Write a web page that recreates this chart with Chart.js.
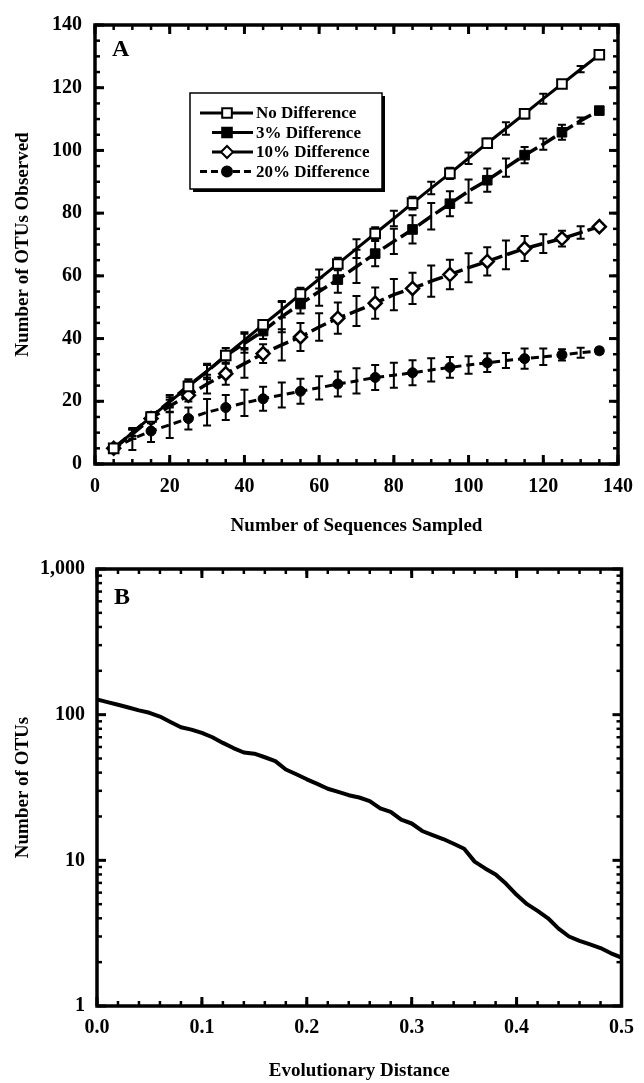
<!DOCTYPE html>
<html>
<head>
<meta charset="utf-8">
<script src="https://cdn.jsdelivr.net/npm/chart.js@4.4.1/dist/chart.umd.min.js"></script>
<style>
  html, body { margin: 0; padding: 0; background: #fff; }
  #wrap { position: relative; width: 644px; height: 1083px; }
  canvas { position: absolute; left: 0; }
  #chartA { top: 0; }
  #chartB { top: 545px; }
</style>
</head>
<body>
<div id="wrap">
  <canvas id="chartA" width="644" height="545"></canvas>
  <canvas id="chartB" width="644" height="538"></canvas>
</div>
<script>
// ---------- Panel A: OTUs observed vs. sequences sampled ----------
const sampled = [5, 10, 15, 20, 25, 30, 35, 40, 45, 50, 55, 60, 65, 70, 75, 80, 85, 90, 95, 100, 105, 110, 115, 120, 125, 130, 135];

const noDiff = [5, 10, 15, 19.8, 24.7, 29.6, 34.6, 39.5, 44.4, 49.2, 54.2, 59, 63.8, 68.7, 73.5, 78.3, 83.2, 88, 92.7, 97.5, 102.3, 107, 111.7, 116.5, 121.2, 125.9, 130.5];
const noDiffErr = [0.8, 1, 1, 1.5, 1.5, 2, 1.5, 2.5, 1.5, 2.5, 2, 3, 2, 3, 2, 2.5, 2, 2, 1.8, 1.8, 1.5, 2, 1.5, 1.6, 1.2, 1, 0.8];

const diff3 = [5, 10, 15, 20, 25, 29.5, 34.5, 38.5, 42.4, 47, 51, 55, 58.8, 63, 67.1, 71, 74.8, 79, 83, 87, 90.5, 94.5, 98.5, 102, 105.8, 109.5, 112.7];
const diff3Err = [0.8, 1.2, 1.5, 2, 2, 2.5, 2.5, 3, 2.5, 5, 3, 4.5, 4.2, 5.3, 4, 4, 4.5, 4.2, 4, 3.7, 3.7, 2.9, 2.6, 1.8, 2.4, 1, 1];

const diff10 = [5, 9.5, 14.5, 18.5, 21.9, 25.5, 28.8, 32, 35.2, 38, 40.5, 43.7, 46.5, 48.8, 51.3, 54, 56, 58.3, 60.4, 62.6, 64.6, 66.7, 68.7, 70.3, 71.9, 73.8, 75.7];
const diff10Err = [0.8, 1.5, 1.5, 2, 2, 3, 3.5, 4.5, 3, 5, 4.5, 4.4, 5, 4.8, 5, 5, 5, 5, 4.7, 4.6, 4.5, 4.6, 4, 3, 2.5, 2, 1];

const diff20 = [5, 8, 10.5, 12.5, 14.5, 16.5, 18, 19.5, 20.8, 22, 23.2, 24.3, 25.5, 26.5, 27.6, 28.3, 29.1, 30, 30.8, 31.6, 32.3, 33, 33.6, 34.2, 34.8, 35.5, 36.1];
const diff20Err = [1, 3.5, 3.5, 4.2, 3.5, 4.2, 4, 4.2, 3.8, 4, 4, 3.7, 4, 4, 4, 4, 4, 3.7, 3.3, 2.8, 3, 2.4, 3.2, 2.6, 1.8, 1.6, 1];

const seriesLabels = ["No Difference", "3% Difference", "10% Difference", "20% Difference"];
const ticksA = [0, 20, 40, 60, 80, 100, 120, 140];

// ---------- Panel B: OTUs vs. evolutionary distance ----------
const distance = [0, 0.01, 0.02, 0.03, 0.04, 0.05, 0.06, 0.07, 0.08, 0.09, 0.1, 0.11, 0.12, 0.13, 0.14, 0.15, 0.16, 0.17, 0.18, 0.19, 0.2, 0.21, 0.22, 0.23, 0.24, 0.25, 0.26, 0.27, 0.28, 0.29, 0.3, 0.31, 0.32, 0.33, 0.34, 0.35, 0.36, 0.37, 0.38, 0.39, 0.4, 0.41, 0.42, 0.43, 0.44, 0.45, 0.46, 0.47, 0.48, 0.49, 0.5];
const otus = [127, 122, 117, 112, 107, 103, 97, 89, 82, 79, 75, 70, 64, 59, 55, 54, 51, 48, 42, 39, 36, 33.5, 31, 29.5, 28, 27, 25.5, 22.7, 21.5, 19, 17.9, 15.9, 14.9, 14, 13, 12, 9.8, 8.8, 8, 6.9, 5.8, 5, 4.5, 4, 3.4, 3, 2.8, 2.65, 2.5, 2.3, 2.15];
const ticksBx = [0, 0.1, 0.2, 0.3, 0.4, 0.5];
const ticksBy = [1, 10, 100, 1000];

// ---------- shared look ----------
Chart.defaults.font.family = '"Liberation Serif", "Times New Roman", Times, serif';
Chart.defaults.font.weight = "bold";
Chart.defaults.font.size = 20;
Chart.defaults.color = "#000";

// error bars, drawn under the lines and markers
const errorBars = {
  id: "errorBars",
  beforeDatasetsDraw(chart) {
    const { ctx } = chart;
    const ys = chart.scales.y;
    ctx.save();
    ctx.strokeStyle = "#000";
    ctx.lineWidth = 2;
    chart.data.datasets.forEach((ds, i) => {
      if (!ds.errors) return;
      chart.getDatasetMeta(i).data.forEach((pt, j) => {
        const v = ds.data[j].y;
        const e = ds.errors[j];
        const top = ys.getPixelForValue(v + e);
        const bot = ys.getPixelForValue(v - e);
        ctx.beginPath();
        ctx.moveTo(pt.x, top); ctx.lineTo(pt.x, bot);
        ctx.moveTo(pt.x - 4, top); ctx.lineTo(pt.x + 4, top);
        ctx.moveTo(pt.x - 4, bot); ctx.lineTo(pt.x + 4, bot);
        ctx.stroke();
      });
    });
    ctx.restore();
  },
};

// heavy frame with inward ticks on all four sides + panel letter
const frame = {
  id: "frame",
  afterDraw(chart, args, opts) {
    const { ctx, chartArea: a } = chart;
    const xs = chart.scales.x, ys = chart.scales.y;
    ctx.save();
    ctx.strokeStyle = "#000";
    const seg = (x1, y1, x2, y2) => { ctx.beginPath(); ctx.moveTo(x1, y1); ctx.lineTo(x2, y2); ctx.stroke(); };
    const xTicks = (vals, len, w) => {
      ctx.lineWidth = w;
      vals.forEach((v) => {
        const p = xs.getPixelForValue(v);
        seg(p, a.bottom, p, a.bottom - len);
        seg(p, a.top, p, a.top + len);
      });
    };
    const yTicks = (vals, len, w) => {
      ctx.lineWidth = w;
      vals.forEach((v) => {
        const p = ys.getPixelForValue(v);
        seg(a.left, p, a.left + len, p);
        seg(a.right, p, a.right - len, p);
      });
    };
    xTicks(opts.xMinor, 5, 2.5);
    xTicks(opts.xMajor, 9, 3);
    yTicks(opts.yMinor, 5, 2.5);
    yTicks(opts.yMajor, 9, 3);
    ctx.lineWidth = 3.5;
    ctx.strokeRect(a.left, a.top, a.right - a.left, a.bottom - a.top);
    ctx.fillStyle = "#000";
    ctx.font = 'bold 24px "Liberation Serif", serif';
    ctx.textBaseline = "alphabetic";
    ctx.fillText(opts.letter, a.left + 17, a.top + opts.letterDy);
    ctx.restore();
  },
};

// boxed legend with drop shadow (panel A)
const boxLegend = {
  id: "boxLegend",
  afterDraw(chart, args, opts) {
    const { ctx } = chart;
    const { x, y, w, h } = opts;
    ctx.save();
    ctx.fillStyle = "#000";
    ctx.fillRect(x + 3, y + 3, w, h);
    ctx.fillStyle = "#fff";
    ctx.fillRect(x, y, w, h);
    ctx.strokeStyle = "#000";
    ctx.lineWidth = 1.5;
    ctx.strokeRect(x, y, w, h);
    chart.data.datasets.forEach((ds, i) => {
      const ry = y + 20 + i * 19.5;
      const x0 = i === 1 || i === 2 ? x + 22 : x + 10;
      ctx.strokeStyle = "#000";
      ctx.lineWidth = 3;
      ctx.setLineDash(ds.legendDash);
      ctx.beginPath();
      ctx.moveTo(x0, ry);
      ctx.lineTo(x + 63, ry);
      ctx.stroke();
      ctx.setLineDash([]);
      ctx.fillStyle = ds.pointBackgroundColor;
      ctx.lineWidth = 2;
      Chart.helpers.drawPoint(ctx, { pointStyle: ds.pointStyle, radius: ds.legendRadius, rotation: 0, borderWidth: 2 }, x + 37, ry);
      ctx.fillStyle = "#000";
      ctx.font = 'bold 17px "Liberation Serif", serif';
      ctx.textBaseline = "middle";
      ctx.fillText(ds.label, x + 66, ry + 1);
    });
    ctx.restore();
  },
};

const toPoints = (ys) => sampled.map((x, i) => ({ x: x, y: ys[i] }));
const markerAt = (r) => (c) => (sampled[c.dataIndex] % 10 === 5 ? r : 0);

function fixedWidth(w) { return (scale) => { scale.width = w; }; }
function fixedHeight(h) { return (scale) => { scale.height = h; }; }

function range(from, to, step) {
  const out = [];
  for (let v = from; v <= to + 1e-9; v += step) out.push(+v.toFixed(4));
  return out;
}

// --- Panel A chart ---
new Chart(document.getElementById("chartA"), {
  type: "line",
  data: {
    datasets: [
      {
        label: seriesLabels[0], data: toPoints(noDiff), errors: noDiffErr,
        borderColor: "#000", borderWidth: 3, legendDash: [],
        pointStyle: "rect", pointRadius: markerAt(6.8), legendRadius: 6.8,
        pointBackgroundColor: "#fff", pointBorderColor: "#000", pointBorderWidth: 2,
      },
      {
        label: seriesLabels[1], data: toPoints(diff3), errors: diff3Err,
        borderColor: "#000", borderWidth: 3.5, borderDash: [16, 5], legendDash: [],
        pointStyle: "rect", pointRadius: markerAt(6.8), legendRadius: 6.8,
        pointBackgroundColor: "#000", pointBorderColor: "#000", pointBorderWidth: 1,
      },
      {
        label: seriesLabels[2], data: toPoints(diff10), errors: diff10Err,
        borderColor: "#000", borderWidth: 3.5, borderDash: [16, 5], legendDash: [],
        pointStyle: "rectRot", pointRadius: markerAt(6.5), legendRadius: 6,
        pointBackgroundColor: "#fff", pointBorderColor: "#000", pointBorderWidth: 2.5,
      },
      {
        label: seriesLabels[3], data: toPoints(diff20), errors: diff20Err,
        borderColor: "#000", borderWidth: 3, borderDash: [8, 5], legendDash: [7, 4],
        pointStyle: "circle", pointRadius: markerAt(5), legendRadius: 5,
        pointBackgroundColor: "#000", pointBorderColor: "#000", pointBorderWidth: 1,
      },
    ],
  },
  options: {
    responsive: false,
    animation: false,
    events: [],
    layout: { padding: { top: 22, right: 18, left: 0, bottom: 0 } },
    elements: { line: { tension: 0 } },
    scales: {
      x: {
        type: "linear", min: 0, max: 140,
        afterBuildTicks: (s) => { s.ticks = ticksA.map((v) => ({ value: v })); },
        afterFit: fixedHeight(81),
        grid: { display: false, drawTicks: false },
        border: { display: false },
        ticks: { padding: 11, maxRotation: 0 },
        title: { display: true, text: "Number of Sequences Sampled", font: { size: 19, weight: "bold" }, padding: { top: 0, bottom: 8 } },
      },
      y: {
        type: "linear", min: 0, max: 140,
        afterBuildTicks: (s) => { s.ticks = ticksA.map((v) => ({ value: v })); },
        afterFit: fixedWidth(95),
        grid: { display: false, drawTicks: false },
        border: { display: false },
        ticks: { padding: 13 },
        title: { display: true, text: "Number of OTUs Observed", font: { size: 19, weight: "bold" }, padding: { top: 12, bottom: 0 } },
      },
    },
    plugins: {
      legend: { display: false },
      tooltip: { enabled: false },
      frame: { letter: "A", letterDy: 31, xMajor: ticksA, xMinor: range(0, 140, 5), yMajor: ticksA, yMinor: range(0, 140, 5) },
      boxLegend: { x: 190, y: 93, w: 192, h: 96 },
    },
  },
  plugins: [errorBars, frame, boxLegend],
});

// --- Panel B chart ---
const logMinor = [];
[1, 10, 100].forEach((d) => { for (let k = 2; k <= 9; k++) logMinor.push(d * k); });

new Chart(document.getElementById("chartB"), {
  type: "line",
  data: {
    datasets: [
      {
        label: "OTUs",
        data: distance.map((d, i) => ({ x: d, y: otus[i] })),
        borderColor: "#000", borderWidth: 4, pointRadius: 0, tension: 0,
        borderJoinStyle: "round", borderCapStyle: "round",
      },
    ],
  },
  options: {
    responsive: false,
    animation: false,
    events: [],
    layout: { padding: { top: 20, right: 17, left: 0, bottom: 0 } },
    scales: {
      x: {
        type: "linear", min: 0, max: 0.5,
        afterBuildTicks: (s) => { s.ticks = ticksBx.map((v) => ({ value: v })); },
        afterFit: fixedHeight(77),
        grid: { display: false, drawTicks: false },
        border: { display: false },
        ticks: { padding: 10, maxRotation: 0, callback: (v) => Number(v).toFixed(1) },
        title: { display: true, text: "Evolutionary Distance", font: { size: 19, weight: "bold" }, padding: { top: 0, bottom: 1 } },
      },
      y: {
        type: "logarithmic", min: 1, max: 1000,
        afterBuildTicks: (s) => { s.ticks = ticksBy.map((v) => ({ value: v })); },
        afterFit: fixedWidth(97),
        grid: { display: false, drawTicks: false },
        border: { display: false },
        ticks: { padding: 12, callback: (v) => Number(v).toLocaleString("en-US") },
        title: { display: true, text: "Number of OTUs", font: { size: 19, weight: "bold" }, padding: { top: 12, bottom: 0 } },
      },
    },
    plugins: {
      legend: { display: false },
      tooltip: { enabled: false },
      frame: { letter: "B", letterDy: 35, xMajor: ticksBx, xMinor: range(0, 0.5, 0.02), yMajor: ticksBy, yMinor: logMinor },
    },
  },
  plugins: [frame],
});
</script>
</body>
</html>
